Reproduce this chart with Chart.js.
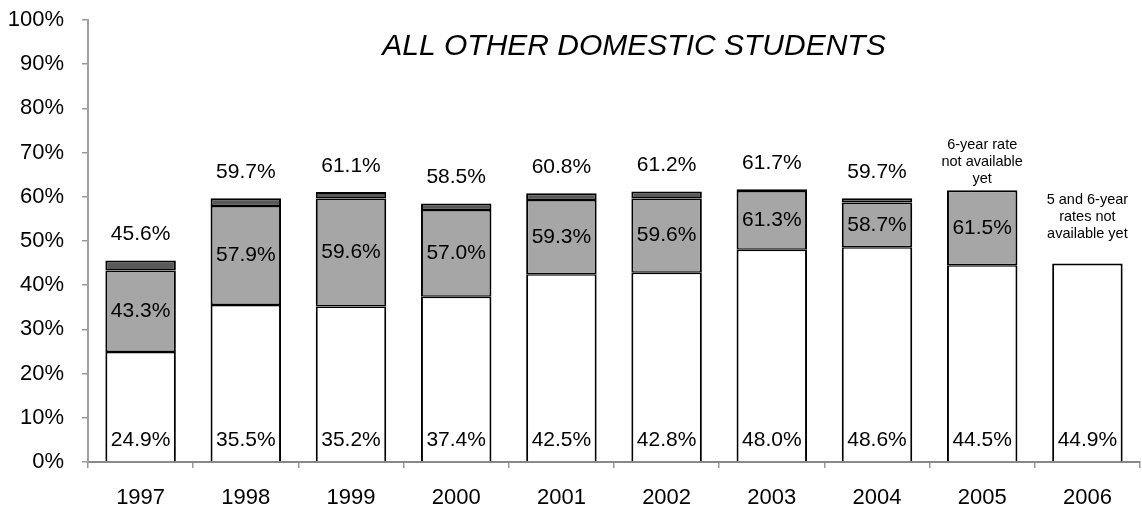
<!DOCTYPE html>
<html>
<head>
<meta charset="utf-8">
<script src="https://cdn.jsdelivr.net/npm/chart.js@4/dist/chart.umd.min.js"></script>
<style>
  html, body { margin: 0; padding: 0; background: #fff; }
  #wrap { width: 1142px; height: 512px; }
</style>
</head>
<body>
<div id="wrap"><canvas id="gradChart" width="1142" height="512"></canvas></div>
<script>
'use strict';

const YEARS = ['1997', '1998', '1999', '2000', '2001', '2002', '2003', '2004', '2005', '2006'];

// cumulative graduation rates (%)
const FOUR_YEAR = [24.9, 35.5, 35.2, 37.4, 42.5, 42.8, 48.0, 48.6, 44.5, 44.9];
const FIVE_YEAR = [43.3, 57.9, 59.6, 57.0, 59.3, 59.6, 61.3, 58.7, 61.5, null];
const SIX_YEAR  = [45.6, 59.7, 61.1, 58.5, 60.8, 61.2, 61.7, 59.7, null, null];

const NOTES = [null, null, null, null, null, null, null, null,
  ['6-year rate', 'not available', 'yet'],
  ['5 and 6-year', 'rates not', 'available yet']];

const Y_TICKS = [0, 10, 20, 30, 40, 50, 60, 70, 80, 90, 100];

const TITLE = 'ALL OTHER DOMESTIC STUDENTS';
const FONT = '"Liberation Sans", Arial, sans-serif';

const fiveGain = FIVE_YEAR.map((v, i) => v == null ? null : +(v - FOUR_YEAR[i]).toFixed(1));
const sixGain  = SIX_YEAR.map((v, i) => v == null ? null : +(v - FIVE_YEAR[i]).toFixed(1));
const stackParts = [FOUR_YEAR, fiveGain, sixGain];

function pct(v) {
  return v.toFixed(1) + '%';
}

// split shared edges between neighbouring segments so joins stay one line thick
function segBorder(ctx) {
  const ds = ctx.datasetIndex;
  const i = ctx.dataIndex;
  const hasAbove = stackParts.slice(ds + 1).some(arr => arr[i] != null);
  return {
    left: 2,
    right: 2,
    top: hasAbove ? 1.5 : 2,
    bottom: ds === 0 ? 0 : 1.5,
  };
}

const labelPlugin = {
  id: 'gradLabels',
  afterDatasetsDraw(chart) {
    const { ctx, chartArea, scales: { x, y } } = chart;
    ctx.save();
    ctx.fillStyle = '#000';
    ctx.textAlign = 'center';
    ctx.textBaseline = 'middle';

    // title sits inside the plot area
    ctx.font = 'italic 30px ' + FONT;
    ctx.fillText(TITLE, 634, chartArea.top + 27);

    ctx.font = '21px ' + FONT;
    YEARS.forEach((yr, i) => {
      const cx = x.getPixelForValue(i);
      ctx.fillText(pct(FOUR_YEAR[i]), cx, y.getPixelForValue(0) - 22);

      if (FIVE_YEAR[i] != null) {
        const mid = (y.getPixelForValue(FOUR_YEAR[i]) + y.getPixelForValue(FIVE_YEAR[i])) / 2;
        ctx.fillText(pct(FIVE_YEAR[i]), cx, mid);
      }
      if (SIX_YEAR[i] != null) {
        ctx.fillText(pct(SIX_YEAR[i]), cx, y.getPixelForValue(SIX_YEAR[i]) - 26);
      }
    });

    ctx.font = '14.5px ' + FONT;
    NOTES.forEach((lines, i) => {
      if (!lines) return;
      const cx = x.getPixelForValue(i);
      const topVal = FIVE_YEAR[i] != null ? FIVE_YEAR[i] : FOUR_YEAR[i];
      const gap = FIVE_YEAR[i] != null ? 11 : 30;
      const base = y.getPixelForValue(topVal) - gap;
      lines.forEach((ln, k) => {
        ctx.fillText(ln, cx, base - (lines.length - 1 - k) * 17);
      });
    });
    ctx.restore();
  },
};

const barCommon = {
  borderColor: '#000',
  borderWidth: segBorder,
  borderSkipped: false,
  categoryPercentage: 1,
  barPercentage: 0.67,
};

new Chart(document.getElementById('gradChart'), {
  type: 'bar',
  data: {
    labels: YEARS,
    datasets: [
      { ...barCommon, label: '4-year', data: FOUR_YEAR, backgroundColor: '#ffffff' },
      { ...barCommon, label: '5-year', data: fiveGain, backgroundColor: '#a6a6a6' },
      { ...barCommon, label: '6-year', data: sixGain, backgroundColor: '#595959' },
    ],
  },
  options: {
    responsive: false,
    animation: false,
    layout: { padding: { top: 20, right: 2, left: 0, bottom: 0 } },
    plugins: {
      legend: { display: false },
      tooltip: { enabled: false },
      title: { display: false },
    },
    scales: {
      x: {
        stacked: true,
        grid: { offset: true, drawOnChartArea: false, tickLength: 6, color: '#999', lineWidth: 1.5 },
        border: { color: '#888', width: 2 },
        ticks: { color: '#000', font: { family: FONT, size: 22 }, padding: 17 },
        afterFit(scale) { scale.height = 50; },
      },
      y: {
        stacked: true,
        min: 0,
        max: 100,
        afterBuildTicks(scale) { scale.ticks = Y_TICKS.map(v => ({ value: v })); },
        grid: { drawOnChartArea: false, tickLength: 6, color: '#999', lineWidth: 1.5 },
        border: { color: '#a0a0a0', width: 2 },
        ticks: {
          color: '#000',
          font: { family: FONT, size: 22 },
          padding: 18,
          callback: v => v + '%',
        },
        afterFit(scale) {
          scale.width = 88;
          scale.paddingTop = 0;
          scale.paddingBottom = 0;
        },
      },
    },
  },
  plugins: [labelPlugin],
});
</script>
</body>
</html>
